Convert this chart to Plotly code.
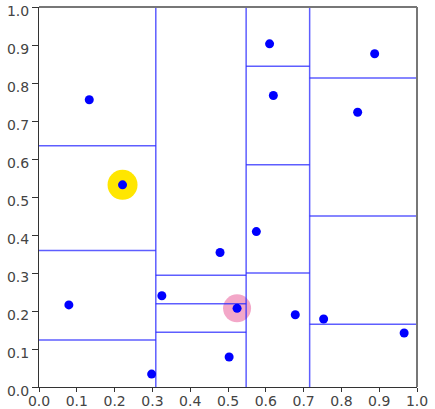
import plotly.graph_objects as go

# Sample points
px = [0.133, 0.221, 0.079, 0.298, 0.325, 0.479, 0.524, 0.503,
      0.575, 0.610, 0.620, 0.678, 0.753, 0.843, 0.888, 0.966]
py = [0.756, 0.532, 0.216, 0.034, 0.240, 0.354, 0.207, 0.079,
      0.409, 0.903, 0.767, 0.190, 0.179, 0.723, 0.877, 0.142]

# Column boundaries (vertical splits)
col_edges = [0.0, 0.309, 0.548, 0.716, 1.0]
# Horizontal splits inside each column
row_splits = [
    [0.124, 0.359, 0.635],
    [0.144, 0.219, 0.294],
    [0.300, 0.585, 0.844],
    [0.165, 0.450, 0.813],
]

# Highlighted points
hl_yellow = (0.221, 0.532)
hl_pink = (0.524, 0.207)

# Axis ticks
tick_vals = [0.0, 0.1, 0.2, 0.3, 0.4, 0.5, 0.6, 0.7, 0.8, 0.9, 1.0]
tick_text = ["0.0", "0.1", "0.2", "0.3", "0.4", "0.5", "0.6", "0.7", "0.8", "0.9", "1.0"]

line_col = "rgba(40,40,255,0.75)"

fig = go.Figure()

# highlight discs under everything
fig.add_trace(go.Scatter(x=[hl_yellow[0]], y=[hl_yellow[1]], mode="markers",
                         marker=dict(size=30, color="#ffe600", line=dict(width=0)),
                         hoverinfo="skip"))
fig.add_trace(go.Scatter(x=[hl_pink[0]], y=[hl_pink[1]], mode="markers",
                         marker=dict(size=28, color="rgba(236,120,170,0.65)", line=dict(width=0)),
                         hoverinfo="skip"))

# partition lines
lx, ly = [], []
for xe in col_edges[1:-1]:
    lx += [xe, xe, None]
    ly += [0, 1, None]
for i, splits in enumerate(row_splits):
    x0, x1 = col_edges[i], col_edges[i + 1]
    for s in splits:
        lx += [x0, x1, None]
        ly += [s, s, None]
fig.add_trace(go.Scatter(x=lx, y=ly, mode="lines",
                         line=dict(color=line_col, width=1.5), hoverinfo="skip"))

# points
fig.add_trace(go.Scatter(x=px, y=py, mode="markers",
                         marker=dict(size=9, color="#0000ff", line=dict(width=0))))

axis_common = dict(range=[0, 1], tickmode="array", tickvals=tick_vals, ticktext=tick_text,
                   showgrid=False, zeroline=False, showline=True, automargin=False,
                   linecolor="#333333", linewidth=1, ticks="outside",
                   tickcolor="#333333", ticklabeloverflow="allow",
                   tickfont=dict(family="DejaVu Sans", size=14, color="#444444"))

fig.update_layout(
    width=435, height=409,
    margin=dict(l=39, r=18, t=7, b=22),
    paper_bgcolor="white", plot_bgcolor="white",
    showlegend=False,
    xaxis=dict(**axis_common, ticklen=4, ticklabelstandoff=-3),
    yaxis=dict(**axis_common, ticklen=6, ticklabelshift=4),
    shapes=[
        dict(type="line", xref="paper", yref="paper", x0=0, x1=1, y0=1, y1=1,
             line=dict(color="#777777", width=2)),
        dict(type="line", xref="paper", yref="paper", x0=1, x1=1, y0=0, y1=1,
             line=dict(color="#777777", width=2)),
    ],
)

fig.write_html("out.html")
